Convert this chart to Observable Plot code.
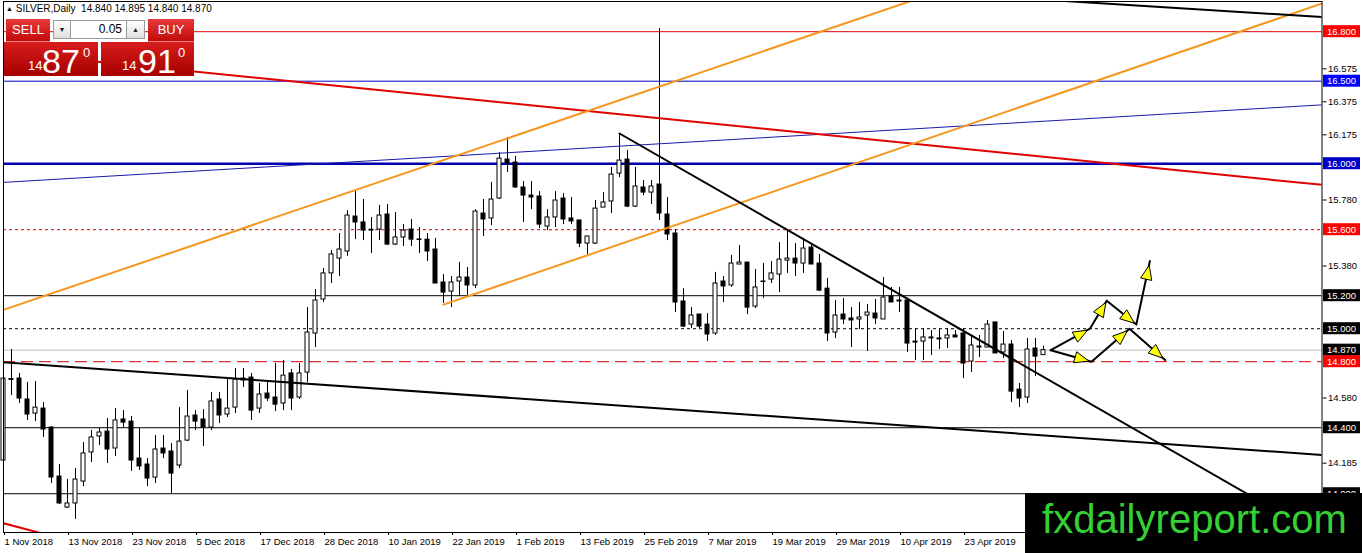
<!DOCTYPE html>
<html>
<head>
<meta charset="utf-8">
<script src="https://cdn.jsdelivr.net/npm/d3@7"></script>
<script src="https://cdn.jsdelivr.net/npm/@observablehq/plot@0.6"></script>
<style>
  html, body { margin: 0; padding: 0; background: #fff; overflow: hidden; }
  #wrap { position: relative; width: 1362px; height: 553px; overflow: hidden; font-family: "Liberation Sans", Arial, sans-serif; }
  #chart { position: absolute; left: 0; top: 0; }
  .hdr { position: absolute; left: 6px; top: 3px; font-size: 10px; color: #000; white-space: pre; line-height: 12px; }
  .hdr .tri { font-size: 7px; vertical-align: 1px; }
  .red { position: absolute; color: #fff; background: linear-gradient(#e63a3a, #c20a0a); }
  .btn { text-align: center; font-size: 13px; line-height: 22px; border-bottom: 1px solid #f08080; }
  .ctl { position: absolute; top: 20px; height: 17px; border: 1px solid #9a9a9a; background: linear-gradient(#ffffff, #dedede); font-size: 7px; text-align: center; line-height: 17px; color: #222; }
  .inp { position: absolute; top: 20px; height: 17px; border: 1px solid #9a9a9a; background: #fff; font-size: 12px; text-align: right; line-height: 17px; color: #000; box-sizing: content-box; }
  .big { position: absolute; top: 42px; height: 34px; background: linear-gradient(#d81c1c, #a60000); color: #fff; }
  .big span { position: absolute; line-height: 1; white-space: nowrap; }
  .wm { position: absolute; left: 1025px; top: 493px; width: 337px; height: 60px; background: #000; }
</style>
</head>
<body>
<div id="wrap">
  <div id="chart"></div>
  <div class="hdr"><span class="tri">▲</span> SILVER,Daily  14.840 14.895 14.840 14.870</div>
  <div class="red btn" style="left:6px;top:19px;width:44px;height:22px;">SELL</div>
  <div class="ctl" style="left:53px;width:16px;">▼</div>
  <div class="inp" style="left:70px;width:51px;padding-right:4px;">0.05</div>
  <div class="ctl" style="left:126px;width:17px;">▲</div>
  <div class="red btn" style="left:148px;top:19px;width:46px;height:22px;">BUY</div>
  <div class="big" style="left:4px;width:94px;">
    <span style="left:24px;top:17px;font-size:13px;">14</span>
    <span style="left:38px;top:2px;font-size:34px;">87</span>
    <span style="left:79px;top:4px;font-size:13px;">0</span>
  </div>
  <div class="big" style="left:101px;width:93px;">
    <span style="left:21px;top:17px;font-size:13px;">14</span>
    <span style="left:37px;top:2px;font-size:34px;">91</span>
    <span style="left:77px;top:4px;font-size:13px;">0</span>
  </div>
  <div class="wm">
    <svg width="337" height="60" xmlns="http://www.w3.org/2000/svg">
      <text x="17" y="40" font-family="'Liberation Sans Narrow','Liberation Sans',Arial,sans-serif" font-size="40" fill="#36d036" textLength="305" lengthAdjust="spacingAndGlyphs">fxdailyreport.com</text>
    </svg>
  </div>
</div>
<script>
// ---------- DATA (daily OHLC, bar index 0 = 1 Nov 2018) ----------
const open = [14.201,14.695,14.698,14.571,14.486,14.516,14.401,14.104,13.916,13.941,
14.074,14.250,14.347,14.377,14.274,14.450,14.437,14.213,14.177,14.098,
14.274,14.256,14.171,14.322,14.474,14.450,14.401,14.571,14.480,14.522,
14.686,14.704,14.516,14.607,14.583,14.547,14.729,14.583,14.734,14.971,
15.177,15.335,15.425,15.468,15.680,15.644,15.600,15.601,15.692,15.510,
15.553,15.601,15.541,15.540,15.480,15.280,15.225,15.286,15.310,15.262,
15.698,15.668,15.789,16.025,16.007,15.856,15.807,15.801,15.619,15.674,
15.789,15.668,15.656,15.516,15.516,15.734,15.771,15.940,16.025,15.740,
15.856,15.825,15.874,15.692,15.577,15.165,15.025,15.086,15.025,14.971,
15.286,15.262,15.389,15.401,15.134,15.286,15.298,15.328,15.413,15.425,
15.395,15.492,15.395,15.243,14.977,15.086,15.062,15.056,15.080,15.092,
15.056,15.195,15.171,15.171,14.922,14.922,14.947,14.941,14.941,14.959,
14.971,14.801,14.892,14.886,15.038,14.856,14.904,14.631,14.583,14.880,
14.840];
const high = [14.710,14.874,14.729,14.674,14.680,14.553,14.407,14.177,14.086,14.153,
14.310,14.383,14.395,14.456,14.516,14.504,14.468,14.395,14.213,14.353,
14.353,14.304,14.522,14.625,14.504,14.510,14.613,14.613,14.692,14.759,
14.759,14.729,14.668,14.686,14.789,14.807,14.753,14.789,15.128,15.237,
15.365,15.474,15.577,15.716,15.831,15.783,15.674,15.747,15.753,15.704,
15.631,15.662,15.613,15.577,15.547,15.328,15.316,15.401,15.371,15.722,
15.783,15.886,16.068,16.159,16.044,15.892,15.892,15.831,15.722,15.831,
15.819,15.795,15.656,15.559,15.777,15.825,15.977,16.183,16.080,15.977,
15.898,15.898,16.819,15.795,15.601,15.243,15.128,15.086,15.092,15.341,
15.316,15.444,15.504,15.401,15.359,15.395,15.407,15.522,15.601,15.516,
15.547,15.516,15.450,15.304,15.171,15.183,15.128,15.159,15.147,15.177,
15.310,15.250,15.250,15.183,15.001,15.001,14.989,14.995,15.001,14.989,
15.001,14.959,14.959,15.050,15.038,14.983,14.928,14.668,14.941,14.941,
14.895];
const low = [14.195,14.595,14.547,14.444,14.437,14.341,14.062,13.934,13.910,13.844,
14.043,14.189,14.292,14.183,14.225,14.401,14.135,14.141,14.043,14.062,
14.213,14.001,14.153,14.316,14.383,14.286,14.383,14.425,14.462,14.486,
14.644,14.444,14.486,14.559,14.498,14.504,14.504,14.571,14.674,14.886,
15.159,15.274,15.316,15.438,15.540,15.534,15.456,15.534,15.504,15.504,
15.498,15.498,15.456,15.407,15.274,15.153,15.128,15.195,15.201,15.243,
15.559,15.625,15.783,15.947,15.850,15.644,15.722,15.607,15.595,15.613,
15.631,15.631,15.492,15.450,15.510,15.734,15.698,15.916,15.734,15.734,
15.807,15.753,15.656,15.534,15.098,15.007,15.001,15.001,14.922,14.959,
15.159,15.250,15.389,15.086,15.122,15.183,15.274,15.219,15.335,15.316,
15.335,15.389,15.225,14.922,14.941,15.025,14.886,14.995,14.862,15.025,
15.056,15.159,15.098,14.856,14.807,14.807,14.838,14.874,14.880,14.947,
14.698,14.735,14.825,14.886,14.850,14.819,14.553,14.522,14.547,14.710,
14.840];
const close = [14.698,14.690,14.577,14.480,14.522,14.389,14.098,13.941,13.941,14.086,
14.244,14.341,14.371,14.268,14.444,14.431,14.201,14.165,14.092,14.268,
14.244,14.122,14.316,14.468,14.437,14.401,14.559,14.474,14.516,14.692,
14.698,14.504,14.601,14.577,14.540,14.716,14.577,14.729,14.977,15.171,
15.335,15.450,15.480,15.686,15.644,15.595,15.595,15.686,15.510,15.553,
15.595,15.540,15.540,15.468,15.274,15.219,15.280,15.310,15.262,15.710,
15.662,15.783,16.031,16.001,15.856,15.807,15.795,15.631,15.674,15.777,
15.662,15.650,15.516,15.559,15.728,15.765,15.934,16.019,15.740,15.862,
15.825,15.862,15.698,15.571,15.159,15.013,15.080,15.013,14.965,15.274,
15.256,15.395,15.401,15.128,15.250,15.286,15.335,15.419,15.425,15.395,
15.486,15.389,15.231,14.971,15.080,15.056,15.050,15.068,15.098,15.062,
15.189,15.159,15.165,14.910,14.916,14.947,14.941,14.935,14.959,14.947,
14.789,14.898,14.886,15.025,14.850,14.904,14.619,14.577,14.874,14.831,
14.870];

// x-axis tick labels (every 8th bar)
const xLabelIdx = [0,8,16,24,32,40,48,56,64,72,80,88,96,104,112,120];
const xLabels = ["1 Nov 2018","13 Nov 2018","23 Nov 2018","5 Dec 2018","17 Dec 2018","28 Dec 2018",
  "10 Jan 2019","22 Jan 2019","1 Feb 2019","13 Feb 2019","25 Feb 2019","7 Mar 2019",
  "19 Mar 2019","29 Mar 2019","10 Apr 2019","23 Apr 2019"];
// right price-axis ticks (visible ones)
const yTicks = [16.575,16.375,16.175,15.780,15.380,14.580,14.185];

// horizontal levels
const levelValues = [16.8, 16.5, 16.0, 15.6, 15.2, 15.0, 14.87, 14.8, 14.4, 14.0];
const levelLineColors = ["#e00000","#0000c8","#0000b0","#d40000","#000000","#000000","#c0c0c0","#d40000","#000000","#000000"];
const levelLineWidths = [1,1,2.5,1,1,1,1,1,1,1];
const levelDash = [null,null,null,"3,3",null,"3,3",null,"12,6",null,null];
const levelBoxColors = ["#ff0000","#0000ff","#0000cc","#ff0000","#000000","#000000","#000000","#ff0000","#000000","#000000"];

// trend lines: [bar index, price]
const orangeUpper = [[-1, 15.098], [115, 17.012]];
const orangeLower = [[55, 15.146], [170, 17.057]];
const redThick    = [[-1, 16.680], [166, 15.866]];
const redLow      = [[-1, 13.834], [6, 13.744]];
const blueThin    = [[-1, 15.884], [166, 16.360]];
const blackFall   = [[77, 16.183], [165, 13.734]];
const blackLower  = [[-1, 14.800], [166, 14.231]];
const blackTop    = [[130, 16.994], [166, 16.885]];

// forecast paths
const pathUp   = [[130.9, 14.87], [135.8, 15.00], [137.9, 15.17], [141.6, 15.025], [143.3, 15.41]];
const pathDown = [[130.9, 14.87], [136.0, 14.80], [140.75, 15.00], [145.2, 14.81]];

// ---------- LAYOUT ----------
const W = 1362, H = 553, ML = 3, MR = 40.5, MT = 1, MB = 21;
const xDomain = [0, 164.8125], yDomain = [13.765, 16.983];
const kx = (W - ML - MR) / (xDomain[1] - xDomain[0]);
const ky = (H - MT - MB) / (yDomain[1] - yDomain[0]);

const candles = open.map((o, i) => ({i, o, h: high[i], l: low[i], c: close[i]}));
const bodyEnd = d => Math.abs(d.c - d.o) < 0.002 ? d.o + (d.c > d.o ? 0.003 : -0.003) : d.c;

function heads(path, tag) {
  const out = [];
  for (let k = 0; k < path.length - 1; k++) {
    const a = path[k], b = path[k + 1];
    const dxp = (b[0] - a[0]) * kx, dyp = (b[1] - a[1]) * ky;
    const len = Math.hypot(dxp, dyp), ux = dxp / len, uy = dyp / len;
    const t = 0.93, L = 14, w = 5.5;
    const tip = [a[0] + t * (b[0] - a[0]), a[1] + t * (b[1] - a[1])];
    const bx = tip[0] - L * ux / kx, by = tip[1] - L * uy / ky;
    const id = tag + k;
    out.push({k: id, x: tip[0], y: tip[1]});
    out.push({k: id, x: bx - w * uy / kx, y: by + w * ux / ky});
    out.push({k: id, x: bx + w * uy / kx, y: by - w * ux / ky});
  }
  return out;
}
const headPts = heads(pathUp, "u").concat(heads(pathDown, "d"));

const lineMark = (pts, stroke, sw) => Plot.line(pts, {x: d => d[0], y: d => d[1], stroke, strokeWidth: sw, clip: true});

const plot = Plot.plot({
  width: W, height: H,
  marginLeft: ML, marginRight: MR, marginTop: MT, marginBottom: MB,
  x: {domain: xDomain, axis: null},
  y: {domain: yDomain, axis: null},
  color: {type: "identity"},
  style: {background: "#fff", fontFamily: "'Liberation Sans', Arial, sans-serif", fontSize: "9.5px", color: "#000"},
  marks: [
    ...levelValues.map((v, k) => Plot.ruleY([v], {
      stroke: levelLineColors[k], strokeWidth: levelLineWidths[k],
      ...(levelDash[k] ? {strokeDasharray: levelDash[k]} : {})
    })),
    Plot.ruleX(candles, {x: "i", y1: "l", y2: "h", stroke: "#000", strokeWidth: 1}),
    Plot.rect(candles, {x1: d => d.i - 0.25, x2: d => d.i + 0.25, y1: "o", y2: bodyEnd,
      fill: d => d.c > d.o ? "#ffffff" : "#000000", stroke: "#000", strokeWidth: 1}),
    lineMark(blueThin, "#1a1aa8", 1),
    lineMark(redThick, "#e00000", 2),
    lineMark(redLow, "#e00000", 2),
    lineMark(orangeUpper, "#f5961e", 2),
    lineMark(orangeLower, "#f5961e", 2),
    lineMark(blackFall, "#000", 2),
    lineMark(blackLower, "#000", 2),
    lineMark(blackTop, "#000", 2),
    lineMark(pathUp, "#000", 2),
    lineMark(pathDown, "#000", 2),
    Plot.line(headPts, {x: "x", y: "y", z: "k", curve: "linear-closed", fill: "#ffff00", stroke: "#000", strokeWidth: 1}),
    Plot.frame({stroke: "#000"}),
    Plot.axisY({anchor: "right", ticks: yTicks, tickFormat: d => d.toFixed(3), tickSize: 4, tickPadding: 2, label: null, fontSize: 9.5}),
    Plot.axisX({anchor: "bottom", ticks: xLabelIdx, tickFormat: d => xLabels[xLabelIdx.indexOf(d)],
      tickSize: 3, tickPadding: 3, textAnchor: "start", dx: 1, label: null, fontSize: 9.5})
  ]
});
document.getElementById("chart").appendChild(plot);

// right-axis level labels with colored boxes
const ns = "http://www.w3.org/2000/svg";
const ys = plot.scale("y");
const g = document.createElementNS(ns, "g");
g.setAttribute("text-anchor", "start");
levelValues.forEach((v, k) => {
  const cy = ys.apply(v);
  const r = document.createElementNS(ns, "rect");
  r.setAttribute("x", W - MR + 1.5);
  r.setAttribute("y", cy - 6);
  r.setAttribute("width", 37);
  r.setAttribute("height", 12);
  r.setAttribute("fill", levelBoxColors[k]);
  g.appendChild(r);
  const t = document.createElementNS(ns, "text");
  t.setAttribute("x", W - MR + 5.5);
  t.setAttribute("y", cy);
  t.setAttribute("dy", "0.35em");
  t.setAttribute("fill", "#fff");
  t.setAttribute("text-anchor", "start");
  t.setAttribute("font-size", "9.5");
  t.textContent = v.toFixed(3);
  g.appendChild(t);
});
plot.appendChild(g);
</script>
</body>
</html>
